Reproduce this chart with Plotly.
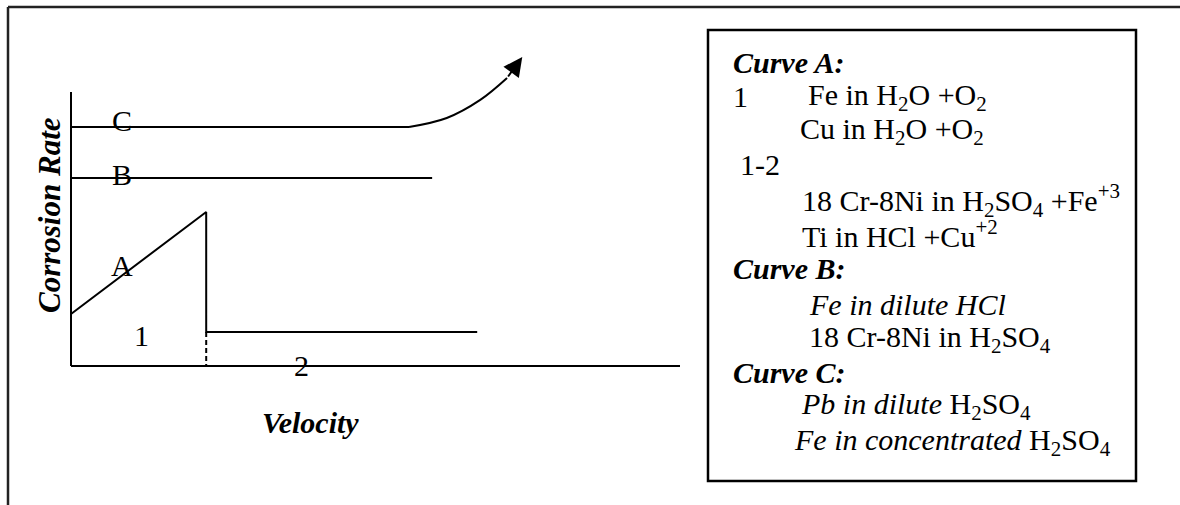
import plotly.graph_objects as go

# ---------------- data (schematic units: velocity / corrosion rate) ----------------
axis_velocity = [0, 10]
axis_rate = [0, 10]

curve_a_velocity = [0, 2.22, 2.22, 6.67]
curve_a_rate = [1.90, 5.62, 1.24, 1.24]

transition_velocity = [2.22, 2.22]
transition_rate = [1.24, 0]

curve_b_velocity = [0, 5.93]
curve_b_rate = [6.86, 6.86]

curve_c_velocity = [0, 5.55]
curve_c_rate = [8.72, 8.72]
curve_c_rise_velocity = [5.55, 6.17, 6.72, 7.16]
curve_c_rise_rate = [8.72, 9.05, 9.71, 10.51]
curve_c_tip = (7.41, 11.28)

curve_labels = ["C", "B", "A"]
curve_label_pos = [(0.84, 8.95), (0.84, 7.0), (0.84, 3.68)]
region_labels = ["1", "2"]
region_label_pos = [(1.15, 1.10), (3.79, 0.03)]

legend_lines = [
    "<b><i>Curve A:</i></b>",
    "Fe in H<sub>2</sub>O +O<sub>2</sub>",
    "Cu in H<sub>2</sub>O +O<sub>2</sub>",
    "1-2",
    "18 Cr-8Ni in H<sub>2</sub>SO<sub>4</sub> +Fe<sup>+3</sup>",
    "Ti in HCl +Cu<sup>+2</sup>",
    "<b><i>Curve B:</i></b>",
    "<i>Fe in dilute HCl</i>",
    "18 Cr-8Ni in H<sub>2</sub>SO<sub>4</sub>",
    "<b><i>Curve C:</i></b>",
    "<i>Pb in dilute </i>H<sub>2</sub>SO<sub>4</sub>",
    "<i>Fe in concentrated </i>H<sub>2</sub>SO<sub>4</sub>",
]
legend_prefix = "1"

# ---------------- layout geometry (pixels) ----------------
W, H = 1180, 505
X0PX, XS = 71, 60.9     # px of velocity 0, px per unit
Y0PX, YS = 366, 27.4    # px of rate 0, px per unit
FONT = "Liberation Serif"
FS = 30

def px_x(p):
    return p / W

def px_y(p):
    return 1 - p / H

xrange_ = [(0 - X0PX) / XS, (W - X0PX) / XS]
yrange_ = [(Y0PX - H) / YS, (Y0PX - 0) / YS]

line = dict(color="black", width=2)

fig = go.Figure()
# axes
fig.add_trace(go.Scatter(x=[axis_velocity[0], axis_velocity[1]], y=[0, 0], mode="lines", line=line))
fig.add_trace(go.Scatter(x=[0, 0], y=[axis_rate[0], axis_rate[1]], mode="lines", line=line))
# curves
fig.add_trace(go.Scatter(x=curve_a_velocity, y=curve_a_rate, mode="lines", line=line))
fig.add_trace(go.Scatter(x=transition_velocity, y=transition_rate, mode="lines",
                         line=dict(color="black", width=2, dash="5px,3px")))
fig.add_trace(go.Scatter(x=curve_b_velocity, y=curve_b_rate, mode="lines", line=line))
fig.add_trace(go.Scatter(x=curve_c_velocity, y=curve_c_rate, mode="lines", line=line))
fig.add_trace(go.Scatter(x=curve_c_rise_velocity, y=curve_c_rise_rate, mode="lines",
                         line=dict(color="black", width=2, shape="spline")))

annotations = []
# arrow at end of curve C
annotations.append(dict(x=curve_c_tip[0], y=curve_c_tip[1], ax=curve_c_rise_velocity[-1],
                        ay=curve_c_rise_rate[-1], xref="x", yref="y", axref="x", ayref="y",
                        text="", showarrow=True, arrowhead=2, arrowsize=1.9, arrowwidth=2,
                        arrowcolor="black", standoff=0, startstandoff=0))

for t, (vx, vy) in zip(curve_labels + region_labels, curve_label_pos + region_label_pos):
    annotations.append(dict(x=vx, y=vy, xref="x", yref="y", text=t, showarrow=False,
                            font=dict(family=FONT, size=FS, color="black"),
                            xanchor="center", yanchor="middle"))

# axis titles
annotations.append(dict(x=px_x(50), y=px_y(215), xref="paper", yref="paper",
                        text="<b><i>Corrosion Rate</i></b>", textangle=-90, showarrow=False,
                        font=dict(family=FONT, size=31, color="black"),
                        xanchor="center", yanchor="middle"))
annotations.append(dict(x=px_x(310), y=px_y(422), xref="paper", yref="paper",
                        text="<b><i>Velocity</i></b>", showarrow=False,
                        font=dict(family=FONT, size=FS, color="black"),
                        xanchor="center", yanchor="middle"))

# legend box text
legend_x = [731, 806, 798, 738, 800, 800, 731, 807, 807, 731, 799, 792]
legend_y = [62, 97, 131, 164, 200, 234, 268, 304, 339, 372, 406, 442]
for t, lx, ly in zip(legend_lines, legend_x, legend_y):
    annotations.append(dict(x=px_x(lx), y=px_y(ly), xref="paper", yref="paper", text=t,
                            showarrow=False, font=dict(family=FONT, size=FS, color="black"),
                            xanchor="left", yanchor="middle"))
annotations.append(dict(x=px_x(731), y=px_y(97), xref="paper", yref="paper", text=legend_prefix,
                        showarrow=False, font=dict(family=FONT, size=FS, color="black"),
                        xanchor="left", yanchor="middle"))

shapes = [
    # outer frame (top and left edges)
    dict(type="line", xref="paper", yref="paper", x0=px_x(8), y0=px_y(7), x1=1, y1=px_y(7),
         line=dict(color="#222", width=2.5)),
    dict(type="line", xref="paper", yref="paper", x0=px_x(8), y0=px_y(7), x1=px_x(8), y1=0,
         line=dict(color="#222", width=2.5)),
    # legend box
    dict(type="rect", xref="paper", yref="paper", x0=px_x(708), y0=px_y(30), x1=px_x(1136),
         y1=px_y(481), line=dict(color="black", width=2.5)),
]

fig.update_layout(
    width=W, height=H,
    margin=dict(l=0, r=0, t=0, b=0),
    paper_bgcolor="white", plot_bgcolor="white",
    showlegend=False,
    xaxis=dict(range=xrange_, visible=False, domain=[0, 1], fixedrange=True),
    yaxis=dict(range=yrange_, visible=False, domain=[0, 1], fixedrange=True),
    annotations=annotations,
    shapes=shapes,
)

fig.write_html("out.html", config={"displayModeBar": False},
               post_script="document.body.style.margin='0px';document.body.style.padding='0px';")
